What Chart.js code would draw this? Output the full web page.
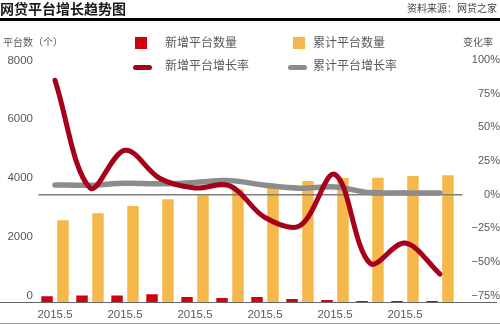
<!DOCTYPE html>
<html>
<head>
<meta charset="utf-8">
<script src="https://cdn.jsdelivr.net/npm/chart.js@4.4.1/dist/chart.umd.min.js"></script>
<style>
  body { margin: 0; background: #fff; }
  #wrap { position: relative; width: 500px; height: 324px; overflow: hidden;
          font-family: 'Liberation Sans', 'Noto Sans CJK SC', sans-serif; color: #595959; }
  #wrap canvas { position: absolute; left: 0; top: 0; }
  .abs { position: absolute; white-space: nowrap; }
  .sq { position: absolute; width: 12px; height: 12px; }
  .ln { position: absolute; width: 19px; height: 5px; border-radius: 2.5px; }
</style>
</head>
<body>
<div id="wrap">
  <canvas id="growthChart" width="500" height="324"></canvas>
  <div class="abs" style="left:0;top:0;height:18px;line-height:18px;font-size:14px;font-weight:bold;color:#1a1a1a">网贷平台增长趋势图</div>
  <div class="abs" style="right:3px;top:0;height:17px;line-height:17px;font-size:10px;color:#444">资料来源：网贷之家</div>
  <div style="position:absolute;left:0;top:18px;width:500px;height:3px;background:#000"></div>

  <div class="abs" style="left:3px;top:35px;height:16px;line-height:16px;font-size:10px">平台数（个）</div>
  <div class="abs" style="left:463px;top:35px;height:16px;line-height:16px;font-size:10px">变化率</div>

  <div class="sq" style="left:135px;top:37px;background:#d3000f"></div>
  <div class="abs" style="left:165px;top:34px;height:18px;line-height:18px;font-size:12px">新增平台数量</div>
  <div class="ln" style="left:133px;top:65px;background:#a5001c"></div>
  <div class="abs" style="left:165px;top:57px;height:18px;line-height:18px;font-size:12px">新增平台增长率</div>

  <div class="sq" style="left:293px;top:37px;background:#f5b84a"></div>
  <div class="abs" style="left:313px;top:34px;height:18px;line-height:18px;font-size:12px">累计平台数量</div>
  <div class="ln" style="left:288px;top:65px;background:#8c8c8c"></div>
  <div class="abs" style="left:313px;top:57px;height:18px;line-height:18px;font-size:12px">累计平台增长率</div>

  <div style="position:absolute;left:0;top:323px;width:500px;height:1px;background:#999"></div>
</div>
<script>
// data
const categories = ['2015.5', '2015.5', '2015.5', '2015.5', '2015.5', '2015.5',
                    '2015.5', '2015.5', '2015.5', '2015.5', '2015.5', '2015.5'];
const newPlatforms = [228, 252, 252, 296, 204, 170, 204, 136, 102, 70, 65, 65];
const totalPlatforms = [2810, 3050, 3290, 3525, 3660, 3860, 3910, 4140, 4240, 4250, 4310, 4340];
const newGrowthRate = [85, 5, 33, 12, 5, 6.5, -17, -23, 15, -51, -36, -59];
const totalGrowthRate = [7.2, 7, 8.5, 8, 9, 10.4, 7, 4.8, 5.7, 1.5, 1.3, 1.3];
const countTicks = [0, 2000, 4000, 6000, 8000];
const rateTicks = [-75, -50, -25, 0, 25, 50, 75, 100];

Chart.defaults.font.family = "'Liberation Sans', 'Noto Sans CJK SC', sans-serif";
Chart.defaults.color = '#595959';

// zero line of the rate axis and the bottom baseline
const guideLines = {
    id: 'guideLines',
    beforeDatasetDraw(chart, args) {
        if (args.index !== 1) return;
        const ctx = chart.ctx;
        const area = chart.chartArea;
        const y0 = chart.scales.y1.getPixelForValue(0);
        ctx.save();
        ctx.strokeStyle = '#7f7f7f';
        ctx.lineWidth = 1.5;
        ctx.beginPath();
        ctx.moveTo(area.left + 1, y0);
        ctx.lineTo(area.right + 5, y0);
        ctx.stroke();
        ctx.restore();
    },
    afterDatasetsDraw(chart) {
        const ctx = chart.ctx;
        const y = chart.chartArea.bottom - 0.5;
        ctx.save();
        ctx.strokeStyle = '#666';
        ctx.lineWidth = 1;
        ctx.beginPath();
        ctx.moveTo(0, y);
        ctx.lineTo(497, y);
        ctx.stroke();
        ctx.restore();
    },
};

const ctx = document.getElementById('growthChart');

new Chart(ctx, {
    type: 'bar',
    data: {
        labels: categories,
        datasets: [
            {
                type: 'line',
                label: '新增平台增长率',
                data: newGrowthRate,
                yAxisID: 'y1',
                borderColor: '#a5001c',
                borderWidth: 5,
                pointRadius: 0,
                tension: 0.35,
                borderCapStyle: 'round',
                borderJoinStyle: 'round',
                order: 1,
            },
            {
                type: 'line',
                label: '累计平台增长率',
                data: totalGrowthRate,
                yAxisID: 'y1',
                borderColor: '#8c8c8c',
                borderWidth: 5.5,
                pointRadius: 0,
                tension: 0.35,
                borderCapStyle: 'round',
                borderJoinStyle: 'round',
                order: 2,
            },
            {
                label: '新增平台数量',
                data: newPlatforms,
                yAxisID: 'y',
                backgroundColor: '#d3000f',
                categoryPercentage: 0.91,
                barPercentage: 0.72,
                order: 3,
            },
            {
                label: '累计平台数量',
                data: totalPlatforms,
                yAxisID: 'y',
                backgroundColor: '#f5b84a',
                categoryPercentage: 0.91,
                barPercentage: 0.72,
                order: 4,
            },
        ],
    },
    options: {
        responsive: false,
        animation: false,
        devicePixelRatio: 1,
        layout: {
            padding: { top: 60, left: 0, right: 0, bottom: 0 },
        },
        plugins: {
            legend: { display: false },
            tooltip: { enabled: false },
        },
        scales: {
            x: {
                offset: true,
                grid: { display: false, drawTicks: false },
                border: { display: false },
                ticks: {
                    autoSkip: false,
                    maxRotation: 0,
                    padding: 5,
                    font: { size: 11.5 },
                    callback: function (value, index) {
                        return index % 2 === 0 ? categories[index] : '';
                    },
                },
                afterFit: function (scale) {
                    scale.height = 21;
                },
            },
            y: {
                position: 'left',
                min: 0,
                max: 8250,
                grid: { display: false, drawTicks: false },
                border: { display: false },
                ticks: {
                    padding: 4.5,
                    labelOffset: -7,
                    font: { size: 11.5 },
                    callback: function (value) {
                        return String(value);
                    },
                },
                afterBuildTicks: function (scale) {
                    scale.ticks = countTicks.map(v => ({ value: v }));
                },
                afterFit: function (scale) {
                    scale.width = 37.5;
                },
            },
            y1: {
                position: 'right',
                min: -80.5,
                max: 100,
                grid: { display: false, drawTicks: false },
                border: { display: false },
                ticks: {
                    crossAlign: 'far',
                    padding: 9,
                    font: { size: 11 },
                    callback: function (value) {
                        return value < 0 ? '\u2212' + Math.abs(value) + '%' : value + '%';
                    },
                },
                afterBuildTicks: function (scale) {
                    scale.ticks = rateTicks.map(v => ({ value: v }));
                },
                afterFit: function (scale) {
                    scale.width = 42.5;
                },
            },
        },
    },
    plugins: [guideLines],
});
</script>
</body>
</html>
